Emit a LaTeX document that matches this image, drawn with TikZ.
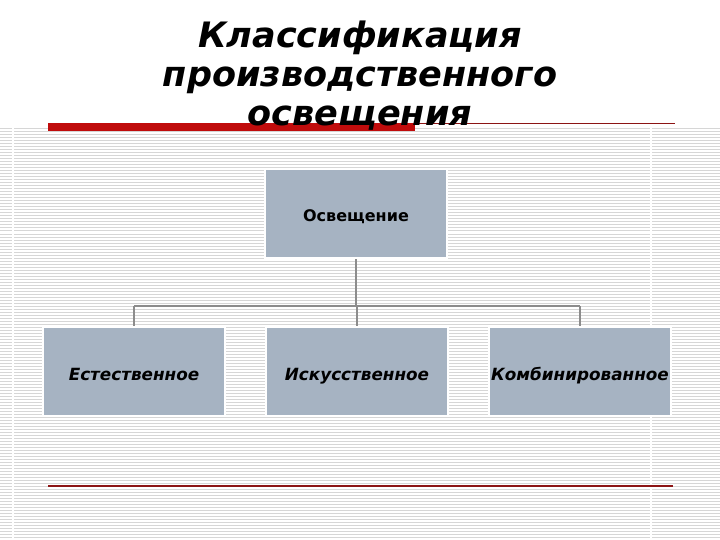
\documentclass[tikz,border=0pt]{standalone}
\usepackage{fontspec}
\setmainfont{DejaVu Sans}
\usetikzlibrary{calc}
\definecolor{boxgray}{RGB}{166,179,194}
\definecolor{linkgray}{RGB}{140,140,140}
\definecolor{stripegray}{RGB}{214,214,214}
\definecolor{barred}{RGB}{192,12,12}
\definecolor{rulered}{RGB}{140,20,20}

\begin{document}
\begin{tikzpicture}[
  x=1pt, y=-1pt,
  every node/.style={font=\fontsize{16}{19}\selectfont\bfseries},
  rootbox/.style={rectangle, fill=boxgray, draw=white, line width=2pt, minimum width=182pt, minimum height=89pt, inner sep=0pt, text height=17pt, text depth=0pt},
  kindbox/.style={rootbox, font=\fontsize{16.8}{19}\selectfont\bfseries\itshape},
  link/.style={draw=linkgray, line width=2pt},
  stripe/.style={stripegray, line width=1pt},
]
\useasboundingbox (0,0) rectangle (720,540);

% ---- striped background ----
\foreach \y in {129,132,...,540}
  \draw[stripe] (0,\y) -- (720,\y);
\draw[white, line width=1.5pt] (13,128) -- (13,540);
\draw[white, line width=1.5pt] (651,128) -- (651,540);

% ---- title rules ----
\fill[barred] (48,123) rectangle (415,131);
\draw[rulered, line width=1pt] (415,123.5) -- (675,123.5);
\draw[rulered, line width=1.2pt] (48,486) -- (673,486);

% ---- title (base anchor sits on the last line) ----
\node[anchor=base, align=center, font=\fontsize{35}{39}\selectfont\bfseries\itshape] (title) at (360,126)
  {Классификация\\производственного\\освещения};

% ---- boxes ----
\node[rootbox] (root) at (356,213.5) {Освещение};
\node[kindbox] (nat)  at (134,371.5) {Естественное};
\node[kindbox] (art)  at (357,371.5) {Искусственное};
\node[kindbox] (comb) at (580,371.5) {Комбинированное};

% ---- connectors ----
\coordinate (bus) at (356,306);
\draw[link] (root.south) -- (root.south |- bus);
\draw[link] (nat.north |- bus) -- (comb.north |- bus);
\draw[link] (nat.north |- bus) -- (nat.north);
\draw[link] (art.north |- bus) -- (art.north);
\draw[link] (comb.north |- bus) -- (comb.north);

\end{tikzpicture}
\end{document}
